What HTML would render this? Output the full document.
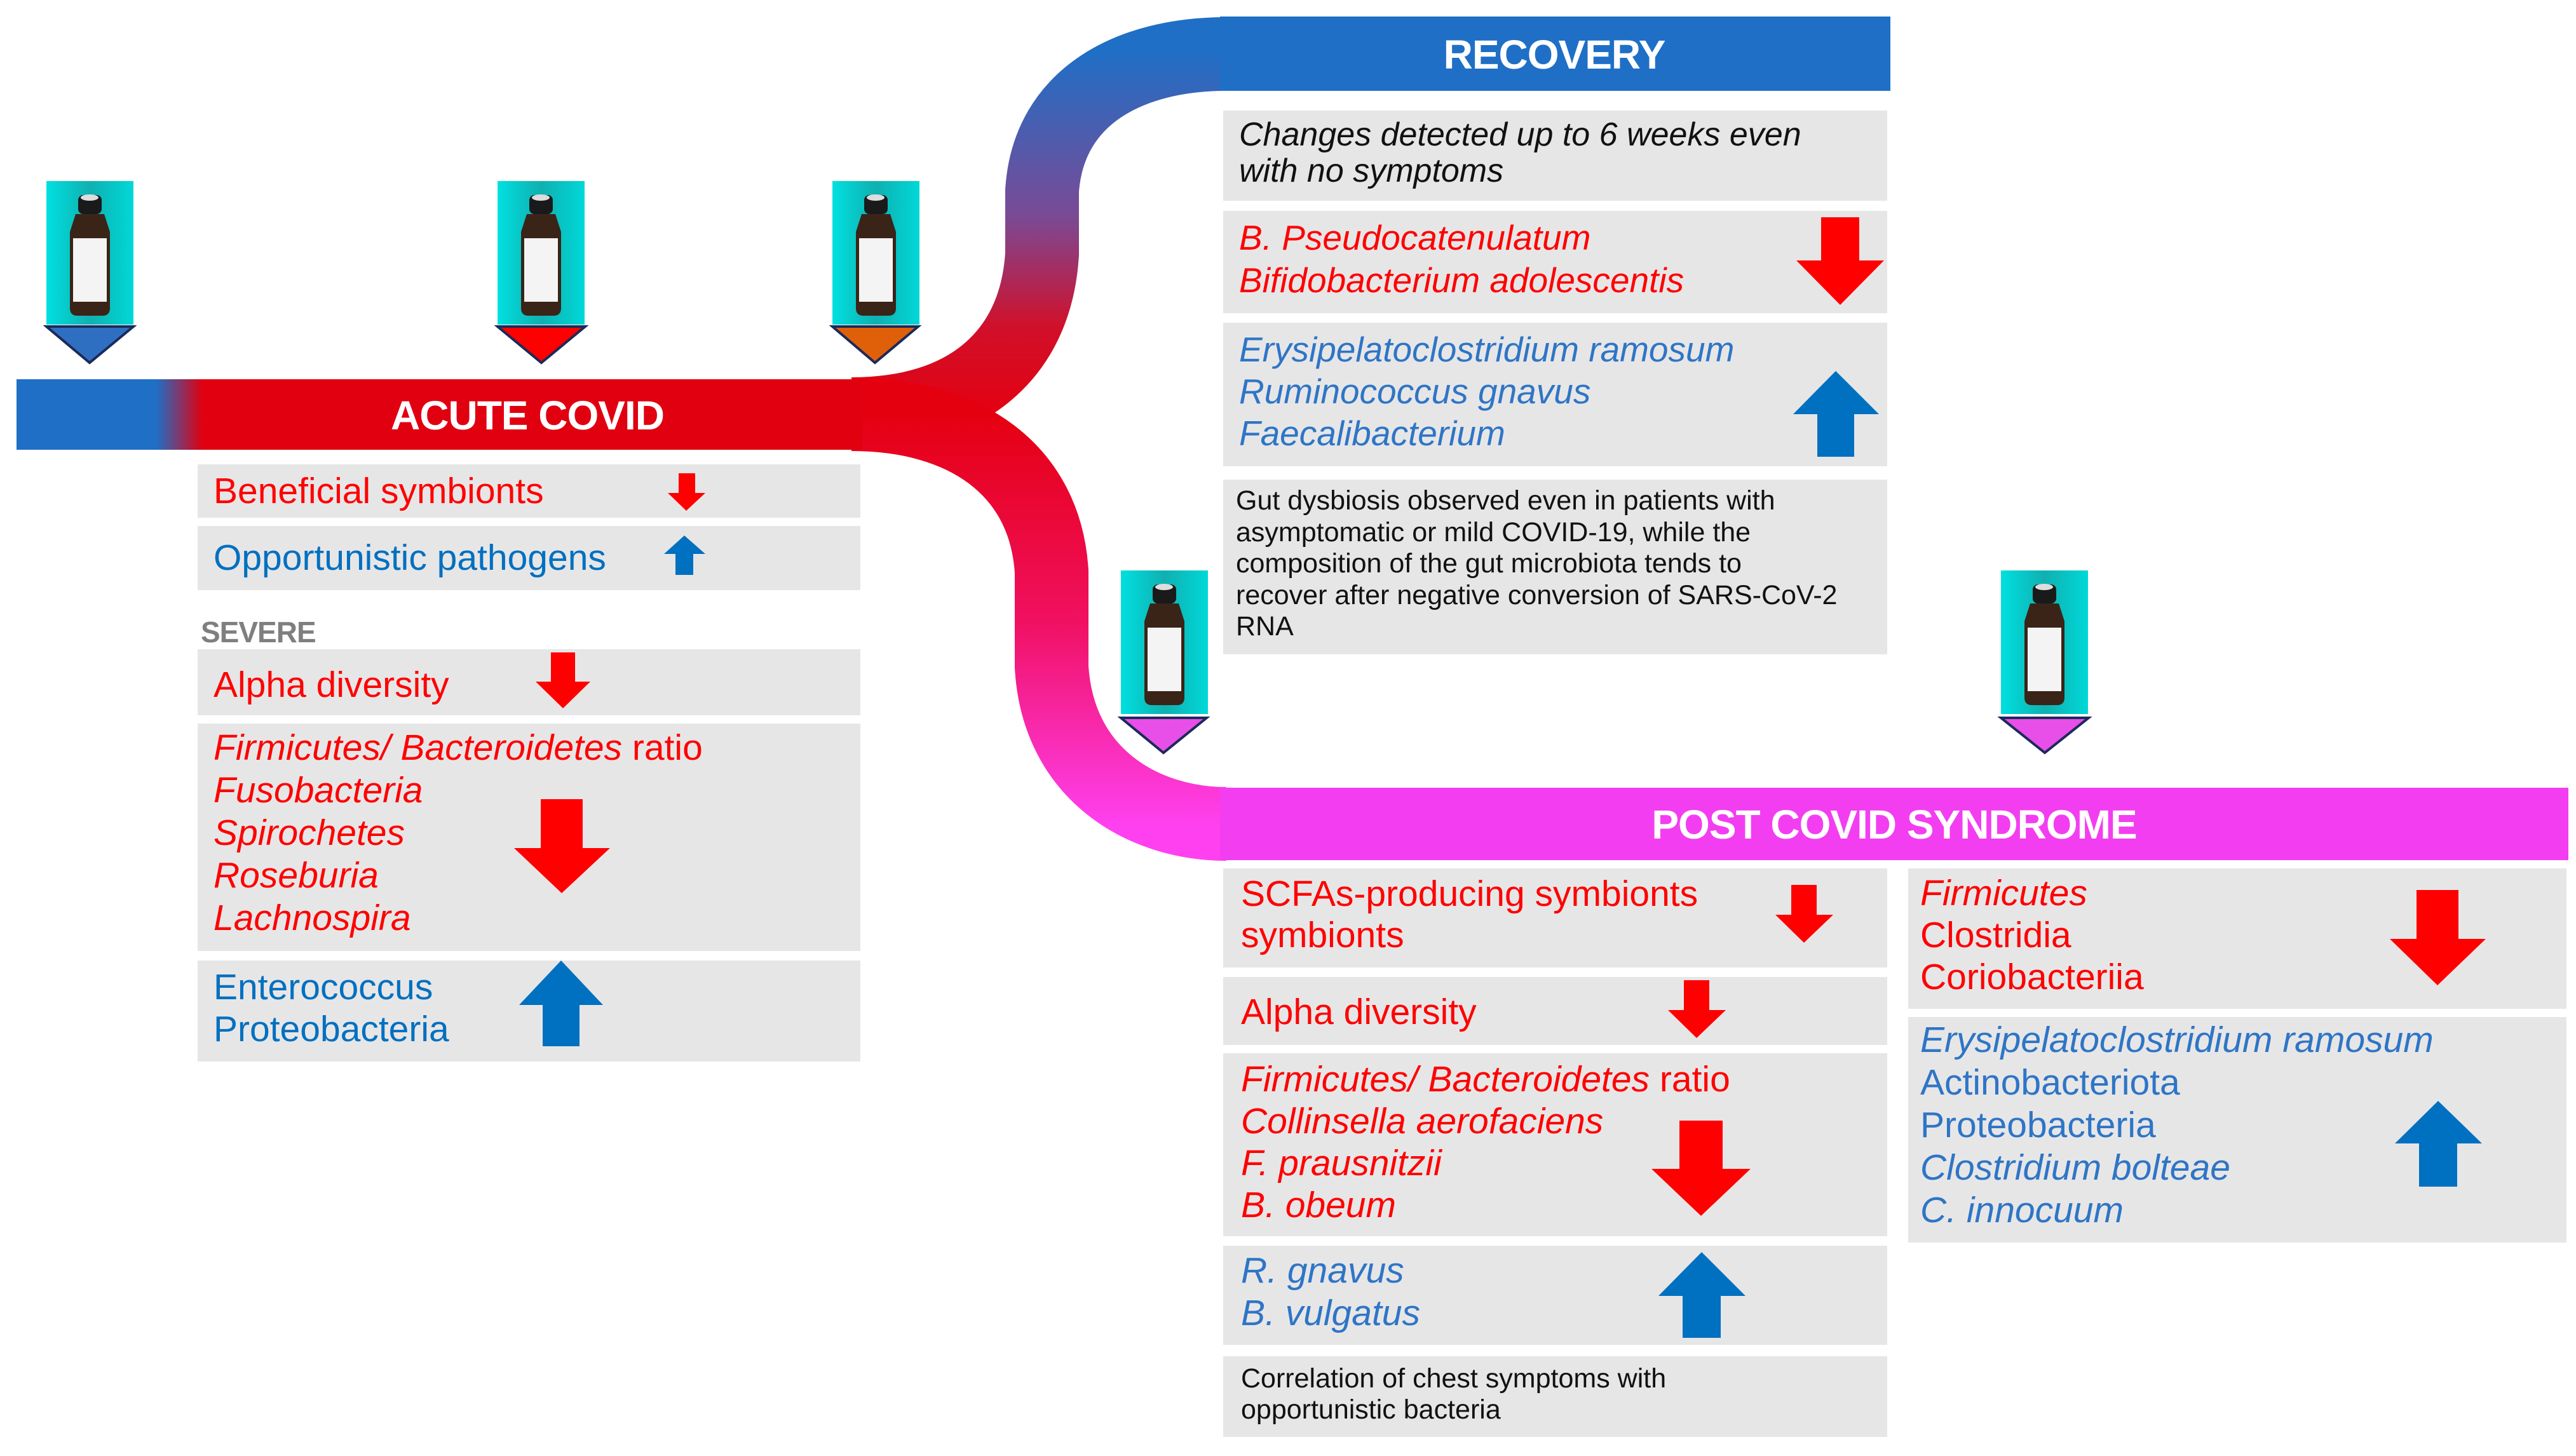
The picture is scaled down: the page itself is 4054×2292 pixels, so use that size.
<!DOCTYPE html>
<html><head><meta charset="utf-8"><style>
html,body{margin:0;padding:0;background:#fff}
body{width:4054px;height:2292px;position:relative;overflow:hidden;font-family:"Liberation Sans",sans-serif}
.t{position:absolute;white-space:nowrap;font-size:57px;letter-spacing:0px}
.r{color:#ff0000}.b{color:#2e75c6}.b2{color:#0070c0}.k{color:#111}
.i{font-style:italic}
.s{font-size:43px;letter-spacing:0px}
.h{position:absolute;color:#fff;font-weight:bold;font-size:64px;transform:translate(-50%,-50%);white-space:nowrap;letter-spacing:-1px}
</style></head><body>
<svg width="4054" height="2292" style="position:absolute;left:0;top:0">
<defs>
<linearGradient id="ac" x1="0" x2="1" y1="0" y2="0">
<stop offset="0" stop-color="#1f6fc6"/><stop offset="0.165" stop-color="#1f6fc6"/><stop offset="0.22" stop-color="#e00010"/><stop offset="1" stop-color="#e00010"/></linearGradient>
<linearGradient id="up" gradientUnits="userSpaceOnUse" x1="0" y1="660" x2="0" y2="80">
<stop offset="0" stop-color="#e50010"/><stop offset="0.25" stop-color="#d0102a"/><stop offset="0.55" stop-color="#7a4a95"/><stop offset="1" stop-color="#1f6fc6"/></linearGradient>
<linearGradient id="dn" gradientUnits="userSpaceOnUse" x1="0" y1="650" x2="0" y2="1300">
<stop offset="0" stop-color="#e50010"/><stop offset="0.5" stop-color="#f01060"/><stop offset="1" stop-color="#ff40f0"/></linearGradient>
<linearGradient id="tl" x1="0" x2="1"><stop offset="0" stop-color="#00e0e0"/><stop offset="0.5" stop-color="#10b0b0"/><stop offset="1" stop-color="#00d8d8"/></linearGradient>
<g id="bot">
<rect x="0" y="0" width="137" height="226" fill="url(#tl)"/>
<rect x="50" y="22" width="37" height="30" rx="8" fill="#1a1a1a"/>
<ellipse cx="68" cy="26" rx="14" ry="5" fill="#ddd"/>
<path d="M46,52 L91,52 L100,80 L100,200 Q100,212 88,212 L49,212 Q37,212 37,200 L37,80 Z" fill="#3a2418"/>
<rect x="42" y="90" width="53" height="100" fill="#f4f4f4"/>
</g>
</defs>
<path d="M1340,652 C1520,652 1630,560 1640,400 L1640,300 C1650,150 1780,85 1930,85" stroke="url(#up)" stroke-width="116" fill="none"/>
<path d="M1340,652 C1520,652 1645,740 1655,900 L1655,1050 C1665,1220 1800,1297 1930,1297" stroke="url(#dn)" stroke-width="116" fill="none"/>
<rect x="26" y="597" width="1331" height="111" fill="url(#ac)"/>
<rect x="1920" y="26" width="1055" height="117" fill="#1f6fc6"/>
<rect x="1920" y="1240" width="2122" height="114" fill="#f23ef0"/>
<g fill="#e7e6e7">
<rect x="311" y="731" width="1043" height="84"/>
<rect x="311" y="828" width="1043" height="101"/>
<rect x="311" y="1022" width="1043" height="104"/>
<rect x="311" y="1139" width="1043" height="358"/>
<rect x="311" y="1512" width="1043" height="159"/>
<rect x="1925" y="174" width="1045" height="142"/>
<rect x="1925" y="332" width="1045" height="161"/>
<rect x="1925" y="508" width="1045" height="226"/>
<rect x="1925" y="755" width="1045" height="275"/>
<rect x="1925" y="1367" width="1045" height="156"/>
<rect x="1925" y="1538" width="1045" height="107"/>
<rect x="1925" y="1658" width="1045" height="288"/>
<rect x="1925" y="1961" width="1045" height="156"/>
<rect x="1925" y="2135" width="1045" height="127"/>
<rect x="3003" y="1367" width="1036" height="221"/>
<rect x="3003" y="1601" width="1036" height="355"/>
</g>
<g fill="#ff0000">
<polygon points="1068,745 1094,745 1094,776 1110,776 1080,804 1051,776 1068,776"/>
<polygon points="867,1027 905,1027 905,1073 929,1073 886,1115 843,1073 867,1073"/>
<polygon points="851,1258 917,1258 917,1335 960,1335 884,1406 809,1335 851,1335"/>
<polygon points="2866,342 2926,342 2926,410 2965,410 2896,480 2827,410 2866,410"/>
<polygon points="2819,1393 2859,1393 2859,1440 2885,1440 2839,1484 2794,1440 2819,1440"/>
<polygon points="2650,1543 2690,1543 2690,1590 2716,1590 2670,1634 2625,1590 2650,1590"/>
<polygon points="2643,1764 2711,1764 2711,1840 2755,1840 2677,1914 2599,1840 2643,1840"/>
<polygon points="3803,1401 3869,1401 3869,1478 3912,1478 3836,1551 3761,1478 3803,1478"/>
</g>
<g fill="#0070c0">
<polygon points="1077,843 1110,872 1091,872 1091,905 1063,905 1063,872 1045,872"/>
<polygon points="883,1512 949,1582 912,1582 912,1647 854,1647 854,1582 817,1582"/>
<polygon points="2889,584 2957,652 2918,652 2918,719 2860,719 2860,652 2822,652"/>
<polygon points="2678,1971 2747,2040 2708,2040 2708,2106 2648,2106 2648,2040 2610,2040"/>
<polygon points="3837,1733 3906,1800 3867,1800 3867,1868 3807,1868 3807,1800 3769,1800"/>
</g>
<use href="#bot" x="73" y="285"/><polygon points="73,514 210,514 141,571" fill="#2f6fc2" stroke="#1c2a5a" stroke-width="4"/>
<use href="#bot" x="783" y="285"/><polygon points="783,514 921,514 852,571" fill="#ff0000" stroke="#1c2a5a" stroke-width="4"/>
<use href="#bot" x="1310" y="285"/><polygon points="1310,514 1445,514 1377,571" fill="#e0600a" stroke="#1c2a5a" stroke-width="4"/>
<use href="#bot" x="1764" y="898"/><polygon points="1764,1130 1899,1130 1831,1185" fill="#e84ee8" stroke="#1c2a5a" stroke-width="4"/>
<use href="#bot" x="3149" y="898"/><polygon points="3149,1130 3287,1130 3218,1185" fill="#e84ee8" stroke="#1c2a5a" stroke-width="4"/>
</svg>

<div class="h" style="left:830px;top:654px">ACUTE COVID</div>
<div class="h" style="left:2446px;top:86px">RECOVERY</div>
<div class="h" style="left:2981px;top:1298px">POST COVID SYNDROME</div>

<div class="t r" style="left:336px;top:740px;line-height:67px">Beneficial symbionts</div>
<div class="t b2" style="left:336px;top:845px;line-height:67px">Opportunistic pathogens</div>
<div class="t" style="left:316px;top:968px;font-size:46px;font-weight:bold;color:#7f7f7f;letter-spacing:-1px">SEVERE</div>
<div class="t r" style="left:336px;top:1045px;line-height:67px">Alpha diversity</div>
<div class="t r" style="left:336px;top:1144px;line-height:67px"><i>Firmicutes/ Bacteroidetes</i> ratio<br><i>Fusobacteria</i><br><i>Spirochetes</i><br><i>Roseburia</i><br><i>Lachnospira</i></div>
<div class="t b2" style="left:336px;top:1521px;line-height:66px">Enterococcus<br>Proteobacteria</div>

<div class="t k i" style="left:1950px;top:184px;line-height:57px;font-size:52px">Changes detected up to 6 weeks even<br>with no symptoms</div>
<div class="t r i" style="left:1950px;top:341px;line-height:67px;font-size:55px">B. Pseudocatenulatum<br>Bifidobacterium adolescentis</div>
<div class="t b i" style="left:1950px;top:517px;line-height:66px;font-size:55px">Erysipelatoclostridium ramosum<br>Ruminococcus gnavus<br>Faecalibacterium</div>
<div class="t k s" style="left:1945px;top:764px;line-height:49.5px">Gut dysbiosis observed even in patients with<br>asymptomatic or mild COVID-19, while the<br>composition of the gut microbiota tends to<br>recover after negative conversion of SARS-CoV-2<br>RNA</div>

<div class="t r" style="left:1953px;top:1375px;line-height:65px">SCFAs-producing symbionts<br>symbionts</div>
<div class="t r" style="left:1953px;top:1560px;line-height:66px">Alpha diversity</div>
<div class="t r" style="left:1953px;top:1666px;line-height:66px"><i>Firmicutes/ Bacteroidetes</i> ratio<br><i>Collinsella aerofaciens</i><br><i>F. prausnitzii</i><br><i>B. obeum</i></div>
<div class="t b i" style="left:1953px;top:1967px;line-height:67px">R. gnavus<br>B. vulgatus</div>
<div class="t k s" style="left:1953px;top:2146px;line-height:49px">Correlation of chest symptoms with<br>opportunistic bacteria</div>

<div class="t r" style="left:3022px;top:1373px;line-height:66px"><i>Firmicutes</i><br>Clostridia<br>Coriobacteriia</div>
<div class="t b" style="left:3022px;top:1604px;line-height:67px"><i>Erysipelatoclostridium ramosum</i><br>Actinobacteriota<br>Proteobacteria<br><i>Clostridium bolteae</i><br><i>C. innocuum</i></div>
</body></html>
